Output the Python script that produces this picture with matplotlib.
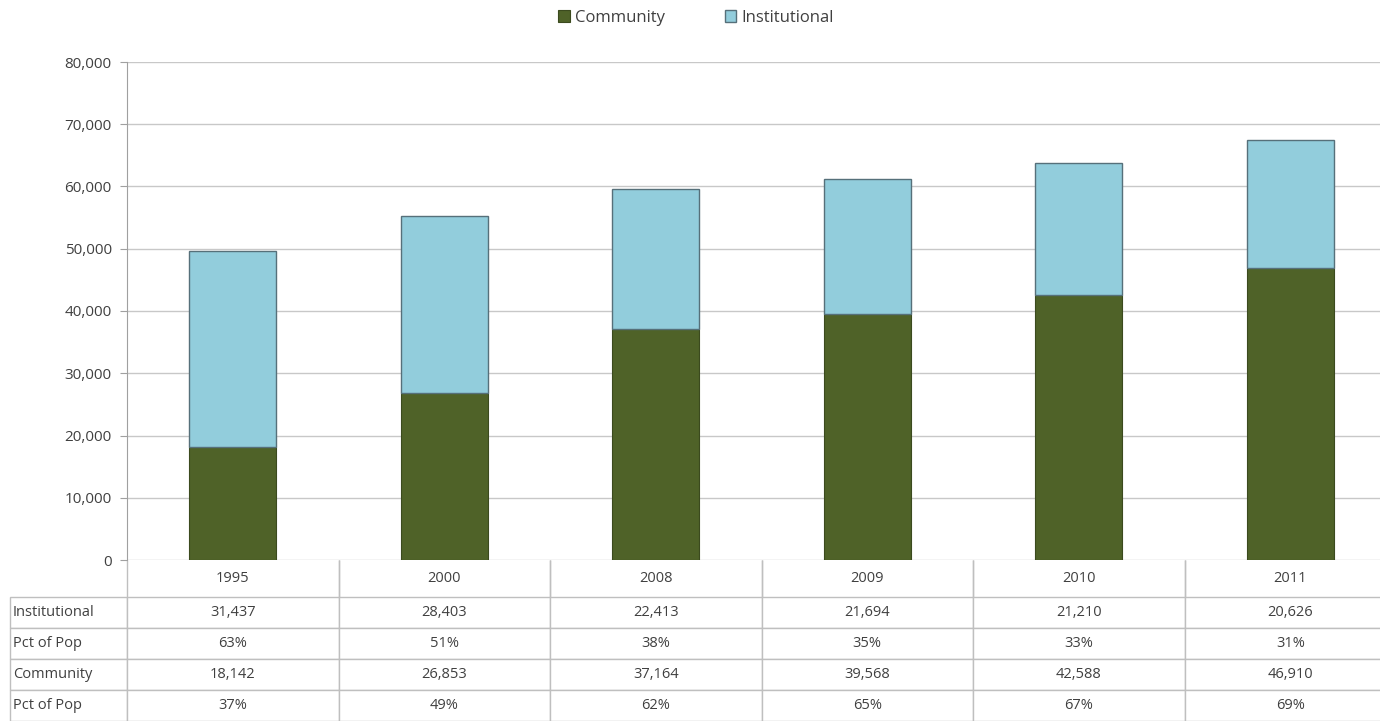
import matplotlib.pyplot as plt
import numpy as np

years = ['1995', '2000', '2008', '2009', '2010', '2011']
institutional = [31437, 28403, 22413, 21694, 21210, 20626]
community = [18142, 26853, 37164, 39568, 42588, 46910]
inst_pct = ['63%', '51%', '38%', '35%', '33%', '31%']
comm_pct = ['37%', '49%', '62%', '65%', '67%', '69%']
row_labels = ['Institutional', 'Pct of Pop', 'Community', 'Pct of Pop']

green = '#4f6228'
blue = '#92cddc'
grid_col = '#c8c8c8'
text_col = '#404040'

plt.rcParams['font.family'] = ['Open Sans', 'DejaVu Sans']

W, H = 1380, 721
fig = plt.figure(figsize=(W / 100, H / 100), dpi=100)
# axes from px x=127..1396 (runs past the right edge), y=62..560
ax = fig.add_axes([127 / W, (H - 560) / H, 1269 / W, 498 / H])

x = np.arange(len(years))
bw = 0.41
ax.bar(x, community, bw, color=green, edgecolor='#3b4a1e', linewidth=0.8,
       label='Community', zorder=3)
ax.bar(x, institutional, bw, bottom=community, color=blue, edgecolor='#56707a',
       linewidth=1.0, label='Institutional', zorder=3)

ax.set_xlim(-0.5, len(years) - 0.5)
ax.set_ylim(0, 80000)
ax.set_yticks(np.arange(0, 80001, 10000))
ax.set_yticklabels([f'{v:,}' for v in range(0, 80001, 10000)], fontsize=11, color=text_col)
ax.set_xticks([])
ax.yaxis.grid(True, color=grid_col, linewidth=1)
ax.set_axisbelow(True)
for s in ['top', 'right', 'bottom']:
    ax.spines[s].set_visible(False)
ax.spines['left'].set_color('#a0a0a0')
ax.tick_params(axis='y', length=5, color='#a0a0a0', pad=6)

# data table under the axes
cells = [[''] + years,
         [row_labels[0]] + [f'{v:,}' for v in institutional],
         [row_labels[1]] + inst_pct,
         [row_labels[2]] + [f'{v:,}' for v in community],
         [row_labels[3]] + comm_pct]
lab_w = 117 / 1269
tab_h = 161 / 498
tbl = ax.table(cellText=cells, colWidths=[117] + [211.5] * 6,
               bbox=[-lab_w, -tab_h, 1 + lab_w, tab_h], cellLoc='center')
tbl.auto_set_font_size(False)
tbl.set_fontsize(10.5)
for (r, c), cell in tbl.get_celld().items():
    cell.set_edgecolor('#bfbfbf')
    cell.set_linewidth(1)
    cell.set_height(37 if r == 0 else 31)
    cell.get_text().set_color(text_col)
    if c == 0:
        cell.get_text().set_ha('left')
        cell._loc = 'left'
        cell.PAD = 0.025
    if r == 0:
        cell.visible_edges = 'LR' if c > 0 else ''

handles, labels = ax.get_legend_handles_labels()
fig.legend(handles, labels, loc='center', bbox_to_anchor=(696 / W, 1 - 18 / H), ncol=2,
           frameon=False, fontsize=12, handlelength=0.7, handleheight=0.7,
           handletextpad=0.3, columnspacing=3.6, labelcolor=text_col)

fig.savefig('out.png', dpi=100)
